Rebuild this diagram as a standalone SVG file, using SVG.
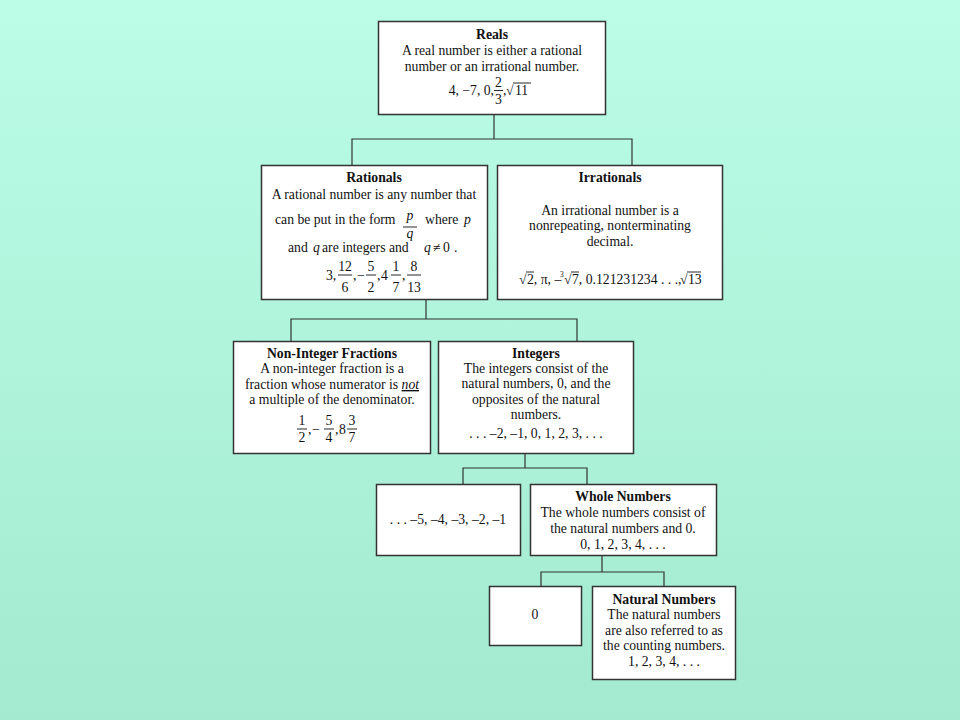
<svg xmlns="http://www.w3.org/2000/svg" width="960" height="720" viewBox="0 0 960 720">
<defs>
<linearGradient id="bg" x1="0" y1="0" x2="0" y2="1">
<stop offset="0" stop-color="#bbfde7"/>
<stop offset="1" stop-color="#a3ead0"/>
</linearGradient>
<style>
.box{fill:#fff;stroke:#333;stroke-width:1.5}
.t{font-family:"Liberation Serif","Times New Roman",serif;font-size:13.7px;fill:#111}
.s{font-size:7.5px}
.c{text-anchor:middle}
.e{text-anchor:end}
.b{font-weight:bold}
.i{font-style:italic}
.conn{fill:none;stroke:#333;stroke-width:1.2}
.bar{stroke:#111;stroke-width:0.9}
</style>
</defs>
<rect width="960" height="720" fill="url(#bg)"/>

<g id="connectors">
<path class="conn" d="M494 114V139M352 165V139H632V165"/>
<path class="conn" d="M426 299V319M291 341V319H577V341"/>
<path class="conn" d="M525 453V468M463 484V468H587V484"/>
<path class="conn" d="M602 555V572M541 586V572H664V586"/>
</g>

<g id="reals">
<rect class="box" x="378.5" y="21.5" width="227" height="93"/>
<text class="t c b" x="492" y="39">Reals</text>
<text class="t c" x="492" y="55">A real number is either a rational</text>
<text class="t c" x="492" y="71">number or an irrational number.</text>
<text class="t e" x="494" y="95">4, −7, 0,</text>
<text class="t c" x="498.5" y="87">2</text>
<line class="bar" x1="494" y1="90.5" x2="503" y2="90.5"/>
<text class="t c" x="498.5" y="104">3</text>
<text class="t" x="503" y="95">,</text>
<text class="t" x="506" y="95">√</text>
<line class="bar" x1="513" y1="83" x2="531" y2="83"/>
<text class="t" x="515" y="95">11</text>
</g>

<g id="rationals">
<rect class="box" x="261.5" y="165.5" width="226" height="134"/>
<text class="t c b" x="374" y="182">Rationals</text>
<text class="t c" x="374" y="199">A rational number is any number that</text>
<text class="t" x="275" y="224">can be put in the form</text>
<text class="t c i" x="410" y="220">p</text>
<line class="bar" x1="403" y1="227" x2="417" y2="227"/>
<text class="t c i" x="410" y="238">q</text>
<text class="t" x="425" y="224">where</text>
<text class="t i" x="464" y="224">p</text>
<text class="t" x="288" y="252">and</text>
<text class="t i" x="313" y="252">q</text>
<text class="t" x="322" y="252">are integers and</text>
<text class="t i" x="424" y="252">q</text>
<text class="t" x="433" y="252">≠</text>
<text class="t" x="443" y="252">0</text>
<text class="t" x="454" y="252">.</text>
<text class="t" x="326" y="280">3,</text>
<text class="t c" x="345" y="271">12</text>
<line class="bar" x1="338" y1="275" x2="352" y2="275"/>
<text class="t c" x="345" y="292">6</text>
<text class="t" x="353" y="280">,</text>
<text class="t" x="357" y="280">−</text>
<text class="t c" x="371" y="271">5</text>
<line class="bar" x1="366" y1="275" x2="376" y2="275"/>
<text class="t c" x="371" y="292">2</text>
<text class="t" x="377" y="280">,</text>
<text class="t" x="381" y="280">4</text>
<text class="t c" x="396" y="271">1</text>
<line class="bar" x1="391" y1="275" x2="401" y2="275"/>
<text class="t c" x="396" y="292">7</text>
<text class="t" x="402" y="280">,</text>
<text class="t c" x="414" y="271">8</text>
<line class="bar" x1="407" y1="275" x2="421" y2="275"/>
<text class="t c" x="414" y="292">13</text>
</g>

<g id="irrationals">
<rect class="box" x="497.5" y="165.5" width="225" height="134"/>
<text class="t c b" x="610" y="182">Irrationals</text>
<text class="t c" x="610" y="215">An irrational number is a</text>
<text class="t c" x="610" y="230">nonrepeating, nonterminating</text>
<text class="t c" x="610" y="246">decimal.</text>
<text class="t" x="519" y="284">√</text>
<line class="bar" x1="526" y1="272" x2="534" y2="272"/>
<text class="t" x="527" y="284">2, π, –</text>
<text class="t s" x="560" y="277">3</text>
<text class="t" x="564" y="284">√</text>
<line class="bar" x1="571" y1="272" x2="579" y2="272"/>
<text class="t" x="572" y="284">7, 0.121231234 . . .,</text>
<text class="t" x="680" y="284">√</text>
<line class="bar" x1="687" y1="272" x2="701" y2="272"/>
<text class="t" x="688" y="284">13</text>
</g>

<g id="non-integer-fractions">
<rect class="box" x="233.5" y="341.5" width="197" height="112"/>
<text class="t c b" x="332" y="358">Non-Integer Fractions</text>
<text class="t c" x="332" y="373">A non-integer fraction is a</text>
<text class="t c" x="332" y="389">fraction whose numerator is <tspan class="i" text-decoration="underline">not</tspan></text>
<text class="t c" x="332" y="404">a multiple of the denominator.</text>
<text class="t c" x="302" y="425">1</text>
<line class="bar" x1="297" y1="429" x2="307" y2="429"/>
<text class="t c" x="302" y="442">2</text>
<text class="t" x="308" y="434">,</text>
<text class="t" x="312" y="434">−</text>
<text class="t c" x="329" y="425">5</text>
<line class="bar" x1="324" y1="429" x2="334" y2="429"/>
<text class="t c" x="329" y="442">4</text>
<text class="t" x="335" y="434">,</text>
<text class="t" x="339" y="434">8</text>
<text class="t c" x="352" y="425">3</text>
<line class="bar" x1="347" y1="429" x2="357" y2="429"/>
<text class="t c" x="352" y="442">7</text>
</g>

<g id="integers">
<rect class="box" x="438.5" y="341.5" width="195" height="112"/>
<text class="t c b" x="536" y="358">Integers</text>
<text class="t c" x="536" y="373">The integers consist of the</text>
<text class="t c" x="536" y="388">natural numbers, 0, and the</text>
<text class="t c" x="536" y="404">opposites of the natural</text>
<text class="t c" x="536" y="419">numbers.</text>
<text class="t c" x="536" y="438">. . . –2, –1, 0, 1, 2, 3, . . .</text>
</g>

<g id="negatives">
<rect class="box" x="376.5" y="484.5" width="144" height="71"/>
<text class="t c" x="448" y="524">. . . –5, –4, –3, –2, –1</text>
</g>

<g id="whole-numbers">
<rect class="box" x="530.5" y="484.5" width="186" height="71"/>
<text class="t c b" x="623" y="501">Whole Numbers</text>
<text class="t c" x="623" y="517">The whole numbers consist of</text>
<text class="t c" x="623" y="533">the natural numbers and 0.</text>
<text class="t c" x="623" y="549">0, 1, 2, 3, 4, . . .</text>
</g>

<g id="zero">
<rect class="box" x="489.5" y="586.5" width="92" height="59"/>
<text class="t c" x="535" y="619">0</text>
</g>

<g id="natural-numbers">
<rect class="box" x="592.5" y="586.5" width="143" height="93"/>
<text class="t c b" x="664" y="604">Natural Numbers</text>
<text class="t c" x="664" y="619">The natural numbers</text>
<text class="t c" x="664" y="635">are also referred to as</text>
<text class="t c" x="664" y="650">the counting numbers.</text>
<text class="t c" x="664" y="666">1, 2, 3, 4, . . .</text>
</g>
</svg>
